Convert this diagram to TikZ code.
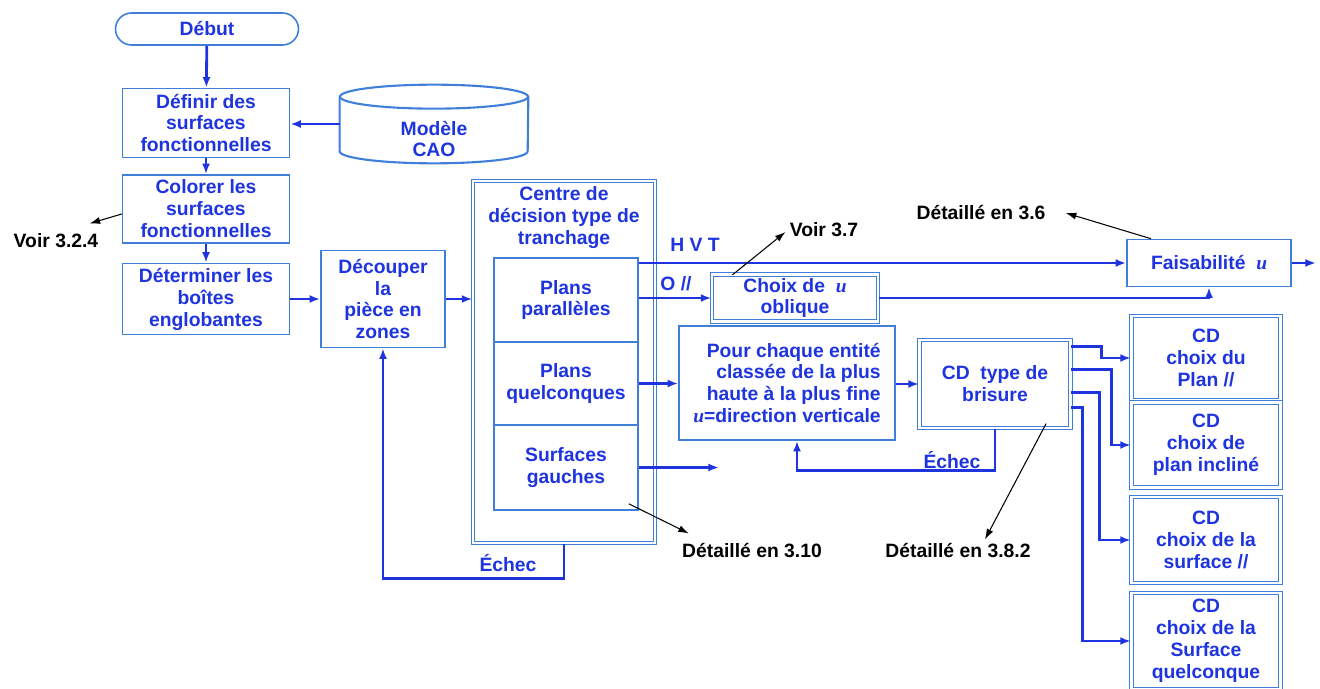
\documentclass[tikz,border=0pt]{standalone}
\usepackage{fontspec}
\setmainfont{Liberation Sans}
\newfontfamily\ufont{Liberation Serif}
\usetikzlibrary{arrows.meta,calc}

\definecolor{ink}{HTML}{1E34DE}
\definecolor{frame}{HTML}{3F7FDA}
\newcommand{\uvar}{{\ufont\bfseries\itshape u}}

\begin{document}
\begin{tikzpicture}[
    x=0.02cm, y=-0.02cm,
    every node/.style={text=ink, font=\bfseries\fontsize{11}{12.5}\selectfont, align=center, inner sep=0pt},
    box/.style={rectangle, draw=frame, line width=0.9pt},
    dbox/.style={rectangle, draw=frame, line width=0.7pt, double=white, double distance=1.4pt},
    link/.style={draw=ink, line width=1.6pt, -{Latex[length=6pt,width=4.5pt]}},
    note/.style={draw=black, line width=0.6pt, -{Latex[length=6pt,width=4pt]}},
    tag/.style={text=black}
]
    \useasboundingbox (0,0) rectangle (1320,689);

    % --- LEFT COLUMN ---
    \node[box, rounded corners=0.32cm, minimum width=3.66cm, minimum height=0.64cm] (debut) at (207,29) {Début};
    \node[box, minimum width=3.34cm, minimum height=1.38cm] (definir) at (206,123) {Définir des\\surfaces\\fonctionnelles};
    \node[box, minimum width=3.34cm, minimum height=1.36cm] (colorer) at (206,209) {Colorer les\\surfaces\\fonctionnelles};
    \node[box, minimum width=3.34cm, minimum height=1.42cm] (determ) at (206,299) {Déterminer les\\boîtes\\englobantes};
    \node[box, minimum width=2.48cm, minimum height=1.94cm] (decoup) at (383,299) {Découper\\la\\pièce en\\zones};

    % CAD model (cylinder)
    \node[minimum width=3.76cm, minimum height=1.56cm] (cao) at (434,124) {};
    \node (caotxt) at (434,139) {Modèle\\CAO};
    \draw[frame, line width=1.2pt] ($(cao.north)+(0,12)$) ellipse [x radius=94, y radius=12];
    \draw[frame, line width=1.2pt] ($(cao.north west)+(0,12)$) -- ($(cao.south west)+(0,-12)$)
        arc[start angle=180, end angle=0, x radius=94, y radius=12] -- ($(cao.north east)+(0,12)$);

    % --- DECISION CENTRE ---
    \node[dbox, minimum width=3.64cm, minimum height=7.24cm] (centre) at (564,362) {};
    \node (titre) at (564,218) {Centre de\\décision type de\\tranchage};
    \node[box, minimum width=2.88cm, minimum height=1.68cm] (par) at (566,300) {Plans\\parallèles};
    \node[box, minimum width=2.88cm, minimum height=1.66cm] (pq) at (566,383.5) {Plans\\quelconques};
    \node[box, minimum width=2.88cm, minimum height=1.70cm] (sg) at (566,467.5) {Surfaces\\gauches};

    % --- MIDDLE ---
    \node[dbox, minimum width=3.32cm, minimum height=0.94cm] (choix) at (795,298) {Choix de~~\uvar\\oblique};
    \node[box, minimum width=3.28cm, minimum height=0.94cm] (faisab) at (1209,263) {Faisabilité~~\uvar};
    \node[box, minimum width=4.32cm, minimum height=2.28cm, align=right] (pour) at (787,383)
        {Pour chaque entité\\classée de la plus\\haute à la plus fine\\\uvar=direction verticale};
    \node[dbox, minimum width=3.02cm, minimum height=1.76cm] (cdtype) at (995,384) {CD~~type de\\brisure};

    % --- RIGHT COLUMN ---
    \node[dbox, minimum width=2.98cm, minimum height=1.68cm] (cd1) at (1206,358) {CD\\choix du\\Plan //};
    \node[dbox, minimum width=2.98cm, minimum height=1.70cm] (cd2) at (1206,445) {CD\\choix de\\plan incliné};
    \node[dbox, minimum width=2.98cm, minimum height=1.72cm] (cd3) at (1206,540) {CD\\choix de la\\surface //};
    \node[dbox, minimum width=2.98cm, minimum height=1.92cm] (cd4) at (1206,641) {CD\\choix de la\\Surface\\quelconque};

    % Free ends
    \coordinate (sortie) at (1316,263);
    \coordinate (vide) at (719,467.5);

    % Labels
    \node (hvt) at (695,245) {H V T};
    \node (obl) at (676,284) {O //};
    \node (echec1) at (508,563) {Échec};
    \node (echec2) at (952,460) {Échec};
    \node[tag] (v324) at (56,241) {Voir 3.2.4};
    \node[tag] (v37) at (824,230) {Voir 3.7};
    \node[tag] (d36) at (981,213) {Détaillé en 3.6};
    \node[tag] (d310) at (752,551) {Détaillé en 3.10};
    \node[tag] (d382) at (958,551) {Détaillé en 3.8.2};

    % --- CONNECTORS ---
    \draw[link] (debut) -- (definir);
    \draw[link] (cao.west) -- (cao.west -| definir.east);
    \draw[link] (definir) -- (colorer);
    \draw[link] (colorer) -- (determ);
    \draw[link] (determ) -- (decoup);
    \draw[link] (decoup) -- (decoup -| centre.west);
    \draw[link] (par.east |- faisab.west) -- (faisab.west);
    \draw[link] (par.east |- choix.west) -- (choix.west);
    \draw[link] (choix.east) -| (faisab.south);
    \draw[link] (faisab.east) -- (sortie);
    \draw[link] (pq.east) -- (pq.east -| pour.west);
    \draw[link] (sg.east) -- (vide);
    \draw[link] (pour.east |- cdtype.west) -- (cdtype.west);
    \draw[link] (cdtype.south) -- ++(0,42) -| ([xshift=0.2cm]pour.south);
    \draw[link] (centre.south) -- ++(0,35) -| (decoup.south);

    % Branches to the right column
    \draw[link] ($(cdtype.north east)+(0,7)$) -- ++(30,0) |- (cd1.west);
    \draw[link] ($(cdtype.north east)+(0,30)$) -- ++(40,0) |- (cd2.west);
    \draw[link] ($(cdtype.north east)+(0,53)$) -- ++(28,0) |- (cd3.west);
    \draw[link] ($(cdtype.north east)+(0,68)$) -- ++(11,0) |- (cd4.west);

    % Notes
    \draw[note] ($(colorer.west)+(0,5)$) -- ($(v324.north east)+(-9,-10)$);
    \draw[note] ($(choix.north west)+(21,1)$) -- ($(v37.west)+(-4,2)$);
    \draw[note] ($(faisab.north)+(-58,0)$) -- ($(d36.east)+(20,0)$);
    \draw[note] ($(sg.south east)+(-10,-7)$) -- ($(d310.north west)+(7,-10)$);
    \draw[note] ($(cdtype.south east)+(-25,-5)$) -- ($(d382.north)+(27,-4)$);

\end{tikzpicture}
\end{document}
